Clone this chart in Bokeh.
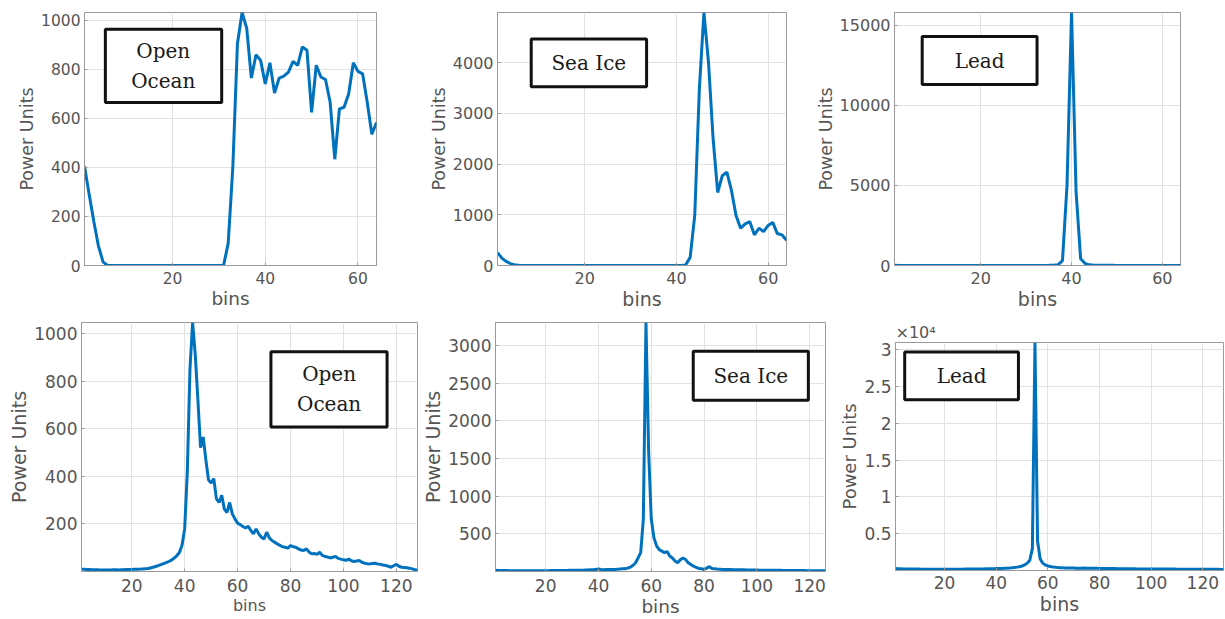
from bokeh.plotting import figure
from bokeh.layouts import row, column
from bokeh.models import Range1d, FixedTicker, BoxAnnotation, Label, Title, Spacer
from bokeh.embed import file_html
from bokeh.resources import INLINE

# ---------------- data ----------------
ocean64 = [404, 290, 180, 80, 15, 0, 0, 0, 0, 0,
           0, 0, 0, 0, 0, 0, 0, 0, 0, 0,
           0, 0, 0, 0, 0, 0, 0, 0, 0, 0,
           0, 90, 400, 905, 1031, 966, 764, 859, 836, 740,
           826, 703, 764, 772, 788, 832, 816, 891, 877, 624,
           816, 768, 758, 665, 433, 638, 645, 700, 826, 791,
           781, 665, 535, 583]

seaice64 = [255, 140, 75, 30, 8, 0, 0, 0, 0, 0,
            0, 0, 0, 0, 0, 0, 0, 0, 0, 0,
            0, 0, 0, 0, 0, 0, 0, 0, 0, 0,
            0, 0, 0, 0, 0, 0, 0, 0, 0, 0,
            0, 10, 160, 990, 3480, 4990, 4000, 2500, 1440, 1770,
            1840, 1480, 985, 735, 820, 865, 605, 735, 670, 790,
            850, 630, 605, 500]

lead64 = [8, 7, 6, 6, 5, 5, 5, 5, 5, 5,
          5, 5, 5, 5, 5, 5, 5, 5, 5, 5,
          5, 5, 5, 5, 5, 5, 5, 5, 5, 5,
          5, 6, 6, 7, 8, 10, 40, 300, 5000, 15800,
          4600, 420, 120, 40, 20, 12, 9, 8, 8, 7,
          7, 7, 6, 6, 6, 6, 6, 6, 5, 5,
          5, 5, 5, 5]

ocean128 = [10, 9, 8, 8, 7, 7, 7, 6, 6, 6,
            6, 6, 7, 7, 6, 7, 7, 8, 8, 8,
            9, 9, 10, 11, 12, 13, 15, 18, 21, 25,
            29, 33, 37, 42, 48, 56, 66, 80, 110, 180,
            420, 850, 1046, 910, 720, 520, 565, 470, 385, 372,
            390, 305, 290, 320, 262, 248, 290, 242, 221, 203,
            197, 189, 183, 190, 172, 158, 179, 158, 144, 137,
            165, 141, 130, 123, 116, 110, 104, 102, 98, 109,
            104, 102, 95, 90, 88, 95, 82, 74, 76, 72,
            81, 68, 63, 61, 57, 60, 63, 55, 52, 49,
            47, 52, 45, 42, 44, 46, 39, 35, 33, 32,
            34, 35, 31, 30, 27, 25, 22, 18, 24, 30,
            22, 18, 17, 16, 14, 11, 8, 5]

seaice126 = [15, 14, 13, 12, 12, 11, 11, 10, 10, 10,
             10, 9, 9, 9, 9, 10, 10, 10, 11, 11,
             11, 12, 12, 12, 13, 13, 14, 14, 15, 15,
             16, 17, 17, 18, 19, 20, 22, 24, 28, 32,
             26, 24, 27, 25, 26, 28, 30, 32, 35, 37,
             45, 56, 80, 113, 180, 250, 700, 3306, 1600, 700,
             450, 340, 290, 270, 250, 265, 205, 180, 140, 115,
             155, 180, 160, 115, 92, 70, 56, 40, 38, 26,
             45, 65, 40, 35, 32, 30, 28, 27, 26, 25,
             24, 23, 23, 22, 22, 21, 20, 20, 19, 19,
             18, 18, 17, 17, 16, 16, 15, 15, 15, 14,
             14, 14, 13, 13, 13, 12, 12, 12, 11, 11,
             11, 10, 10, 10, 9, 9]

lead128 = [260, 240, 230, 220, 210, 200, 200, 195, 190, 190,
           185, 185, 180, 180, 180, 175, 175, 175, 170, 170,
           170, 170, 175, 175, 180, 180, 185, 190, 195, 200,
           200, 205, 210, 215, 220, 225, 230, 240, 250, 260,
           270, 285, 300, 320, 340, 370, 410, 460, 520, 600,
           750, 1000, 1400, 3000, 31000, 4000, 1600, 1000, 750, 620,
           540, 480, 440, 410, 390, 370, 355, 345, 335, 330,
           320, 315, 310, 330, 320, 305, 300, 295, 290, 285,
           280, 275, 270, 265, 260, 255, 250, 245, 240, 235,
           230, 228, 225, 222, 220, 218, 215, 212, 210, 208,
           205, 203, 200, 198, 196, 194, 192, 190, 188, 186,
           184, 182, 180, 178, 176, 174, 172, 170, 168, 166,
           164, 162, 160, 158, 156, 154, 152, 150]

xticks_top = [20, 40, 60]
xticks_bottom = [20, 40, 60, 80, 100, 120]
yticks_ocean64 = [0, 200, 400, 600, 800, 1000]
yticks_seaice64 = [0, 1000, 2000, 3000, 4000]
yticks_lead64 = [0, 5000, 10000, 15000]
yticks_ocean128 = [200, 400, 600, 800, 1000]
yticks_seaice126 = [500, 1000, 1500, 2000, 2500, 3000]
yticks_lead128 = [5000, 10000, 15000, 20000, 25000, 30000]
ylabels_lead128 = ["0.5", "1", "1.5", "2", "2.5", "3"]

labels = ["Open\nOcean", "Sea Ice", "Lead", "Open\nOcean", "Sea Ice", "Lead"]

LINE = "#0072BD"
TXT = "#555555"
FRAME = "#9a9a9a"
GRID = "#e2e2e2"


def panel(vals, ymin, xticks, yticks, w, h, bl, br, bt, bb,
          tick_fs, xl_fs, yl_fs, box, text, text_xy, overrides=None,
          xstand=6):
    xs = list(range(1, len(vals) + 1))
    p = figure(width=w, height=h, output_backend="svg", toolbar_location=None,
               x_range=Range1d(1, len(vals)),
               y_range=Range1d(ymin, max(vals)),
               min_border_left=bl, min_border_right=br,
               min_border_top=bt, min_border_bottom=bb)
    p.background_fill_color = "white"
    p.border_fill_color = "white"
    p.outline_line_color = FRAME
    p.outline_line_width = 1
    p.line(xs, vals, line_color=LINE, line_width=3)

    p.xaxis.ticker = FixedTicker(ticks=xticks)
    p.yaxis.ticker = FixedTicker(ticks=yticks)
    p.xgrid.ticker = FixedTicker(ticks=xticks)
    p.ygrid.ticker = FixedTicker(ticks=yticks)
    if overrides:
        p.yaxis.major_label_overrides = overrides
    for ax in (p.xaxis, p.yaxis):
        ax.axis_line_color = FRAME
        ax.major_tick_line_color = FRAME
        ax.major_tick_in = 3
        ax.major_tick_out = 0
        ax.minor_tick_line_color = None
        ax.major_label_text_font = "DejaVu Sans"
        ax.major_label_text_font_size = tick_fs
        ax.major_label_text_color = TXT
        ax.axis_label_text_font = "DejaVu Sans"
        ax.axis_label_text_font_style = "normal"
        ax.axis_label_text_color = TXT
        ax.axis_label_standoff = 1
    p.xaxis.major_label_standoff = xstand
    p.yaxis.major_label_standoff = 4
    p.xaxis.axis_label = "bins"
    p.yaxis.axis_label = "Power Units"
    p.xaxis.axis_label_text_font_size = xl_fs
    p.yaxis.axis_label_text_font_size = yl_fs
    for g in (p.xgrid, p.ygrid):
        g.grid_line_color = GRID
        g.grid_line_width = 1

    left, right, top, bottom = box
    p.add_layout(BoxAnnotation(left=left, right=right, top=top, bottom=bottom,
                               fill_color="white", fill_alpha=1.0,
                               line_color="#111111", line_alpha=1.0,
                               line_width=3))
    p.add_layout(Label(x=text_xy[0], y=text_xy[1], text=text,
                       text_font="DejaVu Serif", text_font_size="20px",
                       text_color="#1a1a1a", text_align="center",
                       text_baseline="middle", text_line_height=1.25))
    return p


p1 = panel(ocean64, 0, xticks_top, yticks_ocean64, 412, 312, 84, 36, 12, 47,
           "15.5px", "18.5px", "17.5px",
           (5.5, 30.6, 963, 664), labels[0], (18.0, 815))
p2 = panel(seaice64, 0, xticks_top, yticks_seaice64, 394, 312, 85, 20, 12, 47,
           "16px", "19px", "17.5px",
           (8.35, 33.5, 4467, 3527), labels[1], (20.9, 3997))
p3 = panel(lead64, 0, xticks_top, yticks_lead64, 419, 312, 88, 45, 12, 47,
           "16px", "19px", "17.5px",
           (7.1, 32.4, 14294, 11300), labels[2], (19.75, 12800))
p4 = panel(ocean128, 0, xticks_bottom, yticks_ocean128, 419, 307, 81, 2, 10, 48,
           "17px", "16px", "19px",
           (72.6, 116.5, 923, 607), labels[3], (94.6, 765), xstand=7)
p5 = panel(seaice126, 0, xticks_bottom, yticks_seaice126, 416, 307, 74, 10, 10, 48,
           "17px", "18.5px", "19px",
           (75.9, 119.5, 2923, 2273), labels[4], (97.7, 2598), xstand=7)
p6 = panel(lead128, 0, xticks_bottom, yticks_lead128, 390, 297, 60, 2, 20, 44,
           "17px", "19px", "18px",
           (4.56, 48.6, 29694, 23231), labels[5], (26.6, 26460),
           overrides=dict(zip(yticks_lead128, ylabels_lead128)), xstand=5)
p6.add_layout(Title(text="×10⁴", align="left", text_font="DejaVu Sans",
                    text_font_size="16px", text_font_style="normal",
                    text_color=TXT, standoff=1), "above")

layout = column(row(p1, p2, p3),
                row(p4, p5, column(Spacer(width=390, height=8), p6)))
open("out.html", "w").write(file_html(layout, INLINE))
